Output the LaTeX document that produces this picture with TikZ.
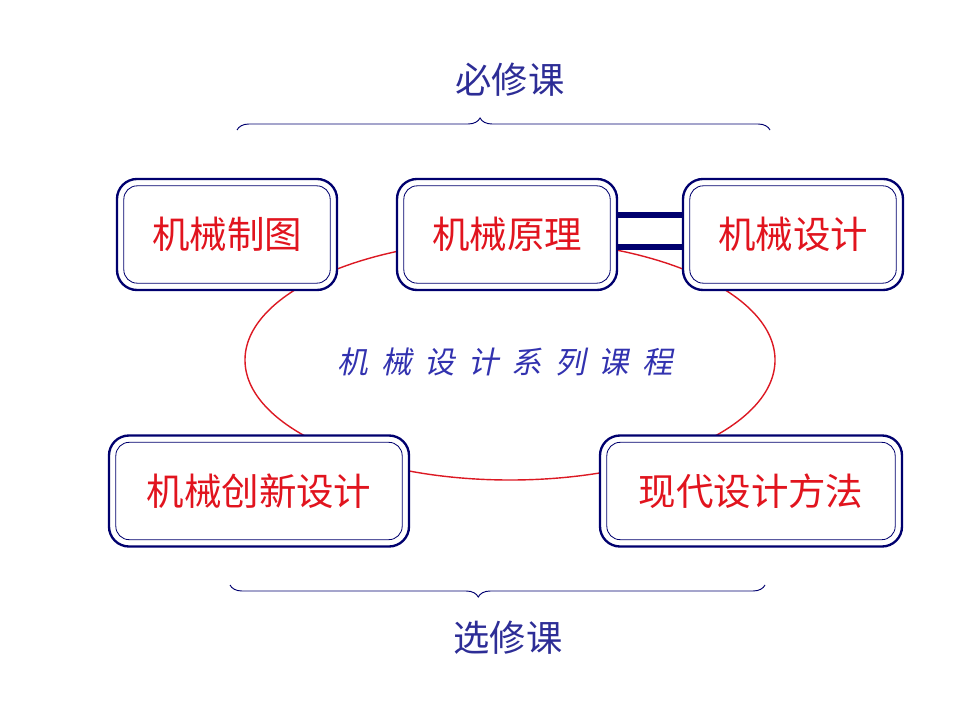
\documentclass[tikz,border=0pt]{standalone}
\usepackage{fontspec}
\setmainfont{Noto Sans CJK SC}
\newfontfamily\handfont[FakeSlant=0.2]{Noto Sans CJK SC}
\usetikzlibrary{positioning, calc, decorations.pathreplacing}
\definecolor{navy}{RGB}{0,0,110}
\definecolor{boxred}{RGB}{225,20,30}
\definecolor{ringred}{RGB}{220,25,35}
\definecolor{labelblue}{RGB}{45,45,150}
\definecolor{handblue}{RGB}{50,50,175}

\tikzset{
  course/.style={draw=navy, line width=2pt, rounded corners=0.6cm, fill=white,
    minimum width=6.6cm, minimum height=3.33cm, text=boxred,
    font=\fontsize{32}{36}\selectfont},
  widecourse/.style={course, minimum width=9cm},
  inner/.style={draw=navy, line width=0.7pt, rounded corners=0.4cm},
  bar/.style={draw=navy, line width=5pt},
  group/.style={draw=navy, line width=0.8pt, decorate},
  grouplabel/.style={text=labelblue, font=\fontsize{31}{36}\selectfont},
  hand/.style={text=handblue, font=\handfont\fontsize{26}{30}\selectfont}
}

\begin{document}
\begin{tikzpicture}[x=0.03cm, y=0.03cm]
  \useasboundingbox (0,0) rectangle (960,720);

  % ring behind the courses
  \draw[ringred, line width=1.2pt] (510,360) ellipse (7.95cm and 3.6cm);

  % required courses
  \node[course] (zt) at (227,485.5) {机械制图};
  \node[course] (yl) at (507,485.5) {机械原理};
  \node[course] (sj) at (793,485.5) {机械设计};

  % elective courses
  \node[widecourse] (cx) at (259,229) {机械创新设计};
  \node[widecourse, minimum width=9.06cm] (xd) at (751,229) {现代设计方法};

  % inner frames
  \foreach \n in {zt,yl,sj,cx,xd}
    \draw[inner] ($(\n.south west)+(8,8)$) rectangle ($(\n.north east)-(8,8)$);

  % link between 原理 and 设计
  \draw[bar] ([yshift=0.585cm]yl.east) -- ([yshift=0.585cm]sj.west);
  \draw[bar] ([yshift=-0.37cm]yl.east) -- ([yshift=-0.37cm]sj.west);

  % braces and their labels
  \draw[group, decoration={brace, amplitude=0.36cm, aspect=0.456}] (237,590) -- (770,590);
  \node[grouplabel] (bx) at (510,640) {必修课};
  \draw[group, decoration={brace, amplitude=0.36cm, aspect=0.536}] (765,135) -- (230,135);
  \node[grouplabel] (xx) at (508,82) {选修课};

  % title in the middle of the ring
  \foreach \c [count=\i] in {机,械,设,计,系,列,课,程}
    \node[hand] (h\i) at ({353+43.5*(\i-1)},358) {\c};
\end{tikzpicture}
\end{document}
